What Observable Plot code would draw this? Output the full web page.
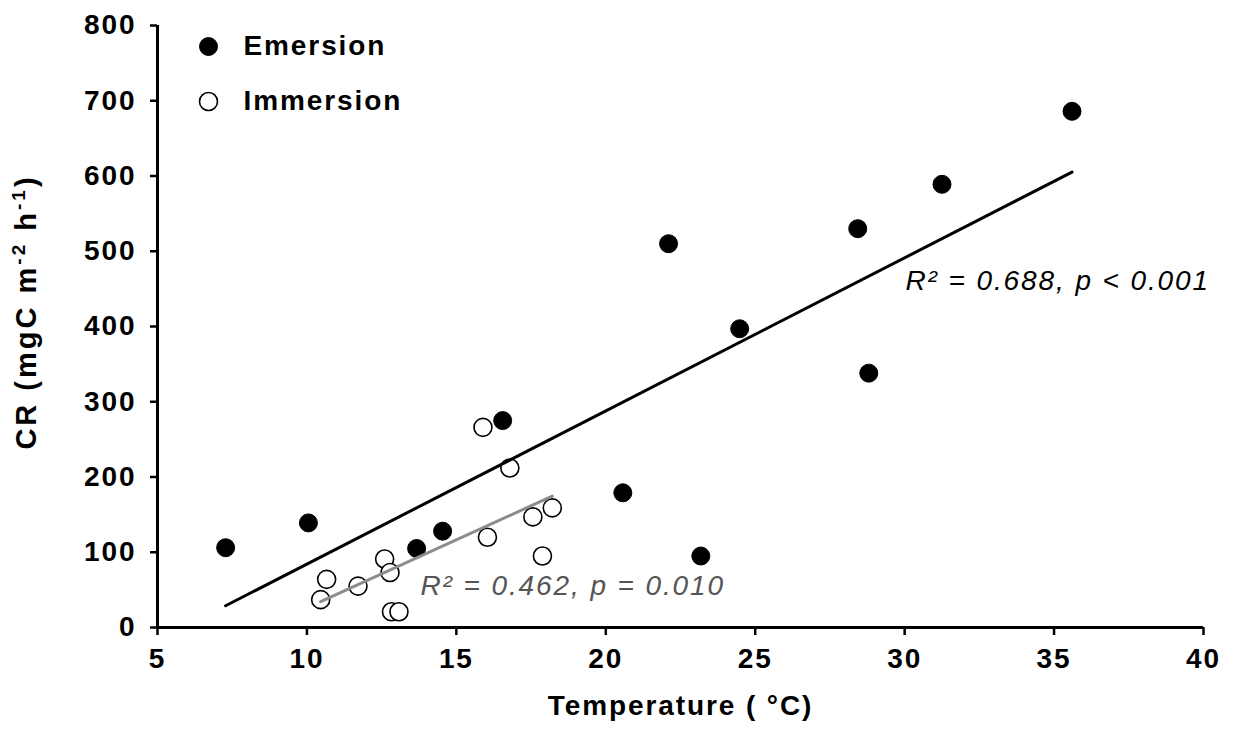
<!DOCTYPE html>
<html><head><meta charset="utf-8">
<script src="https://cdn.jsdelivr.net/npm/d3@7"></script>
<script src="https://cdn.jsdelivr.net/npm/@observablehq/plot@0.6"></script>
<style>
body{margin:0;background:#fff}
#chart svg{display:block}
#chart svg text{letter-spacing:1.9px}
</style>
</head><body><div id="chart"></div>
<script>
// ---- data ----
const emersionTemp = [7.28, 10.05, 13.67, 14.54, 16.55, 20.57, 22.1, 23.18, 24.48, 28.43, 28.8, 31.25, 35.6];
const emersionCR   = [106, 139, 105, 128, 275, 179, 510, 95, 397, 530, 338, 589, 686];
const immersionTemp = [15.89, 16.79, 18.21, 17.56, 17.88, 16.04, 12.60, 12.78, 11.71, 10.66, 10.46, 12.83, 13.08];
const immersionCR   = [266, 212, 159, 147, 95, 120, 91, 73, 55, 64, 37, 21, 21];
const seriesNames = ["Emersion", "Immersion"];
const xTicks = [5, 10, 15, 20, 25, 30, 35, 40];
const yTicks = [0, 100, 200, 300, 400, 500, 600, 700, 800];
const fitLabels = ["R² = 0.688, p < 0.001", "R² = 0.462, p = 0.010"];

const emersion = emersionTemp.map((t, i) => ({temp: t, cr: emersionCR[i], series: seriesNames[0]}));
const immersion = immersionTemp.map((t, i) => ({temp: t, cr: immersionCR[i], series: seriesNames[1]}));

const FONT = "'Liberation Sans', Arial, Helvetica, sans-serif";

const chart = Plot.plot({
  width: 1234, height: 734,
  marginLeft: 157, marginRight: 31, marginTop: 25, marginBottom: 107,
  style: {fontFamily: FONT, background: "#fff", color: "#000"},
  x: {domain: [5, 40]},
  y: {domain: [0, 800]},
  marks: [
    Plot.axisX({ticks: xTicks, tickSize: 8, tickPadding: 13, strokeWidth: 2.5, fontSize: 28, fontWeight: "bold",
      label: "Temperature ( °C)", labelAnchor: "center", labelArrow: "none", labelOffset: 87}),
    Plot.axisY({ticks: yTicks, tickSize: 7, tickPadding: 14, strokeWidth: 2.5, fontSize: 28, fontWeight: "bold", label: null}),
    Plot.ruleY([0], {strokeWidth: 3}),
    Plot.ruleX([5], {strokeWidth: 3}),
    Plot.dot(emersion, {x: "temp", y: "cr", r: 9, fill: "#000", stroke: "#000", strokeWidth: 1}),
    Plot.dot(immersion, {x: "temp", y: "cr", r: 9, fill: "#fff", stroke: "#000", strokeWidth: 1.6}),
    Plot.linearRegressionY(emersion, {x: "temp", y: "cr", ci: 0, stroke: "#000", strokeWidth: 3}),
    Plot.linearRegressionY(immersion, {x: "temp", y: "cr", ci: 0, stroke: "#8c8c8c", strokeWidth: 3}),
    Plot.text([fitLabels[0]], {text: d => d, frameAnchor: "top-left", dx: 748, dy: 256, textAnchor: "start",
      lineAnchor: "middle", fontSize: 28, fontStyle: "italic", fill: "#000"}),
    Plot.text([fitLabels[1]], {text: d => d, frameAnchor: "top-left", dx: 263, dy: 561, textAnchor: "start",
      lineAnchor: "middle", fontSize: 28, fontStyle: "italic", fill: "#555"}),
    ...seriesNames.map((name, i) => Plot.dot([name], {frameAnchor: "top-left", dx: 51, dy: 21 + 55 * i, r: 9,
      fill: i ? "#fff" : "#000", stroke: "#000", strokeWidth: i ? 1.6 : 1})),
    ...seriesNames.map((name, i) => Plot.text([name], {text: d => d, frameAnchor: "top-left", dx: 86, dy: 21 + 55 * i,
      textAnchor: "start", lineAnchor: "middle", fontSize: 28, fontWeight: "bold", fill: "#000"}))
  ]
});

const svg = d3.select(chart);

// y-axis title with superscripts
const yl = svg.append("text")
  .attr("transform", "translate(36,312) rotate(-90)")
  .attr("text-anchor", "middle")
  .attr("font-family", FONT).attr("font-size", 29).attr("font-weight", "bold")
  .style("letter-spacing", "3px")
  .attr("fill", "#000");
yl.append("tspan").text("CR (mgC m");
yl.append("tspan").attr("font-size", 19).attr("dy", -11).text("-2");
yl.append("tspan").attr("dy", 11).text(" h");
yl.append("tspan").attr("font-size", 19).attr("dy", -11).text("-1");
yl.append("tspan").attr("dy", 11).text(")");

document.getElementById("chart").appendChild(chart);
</script>
</body></html>
